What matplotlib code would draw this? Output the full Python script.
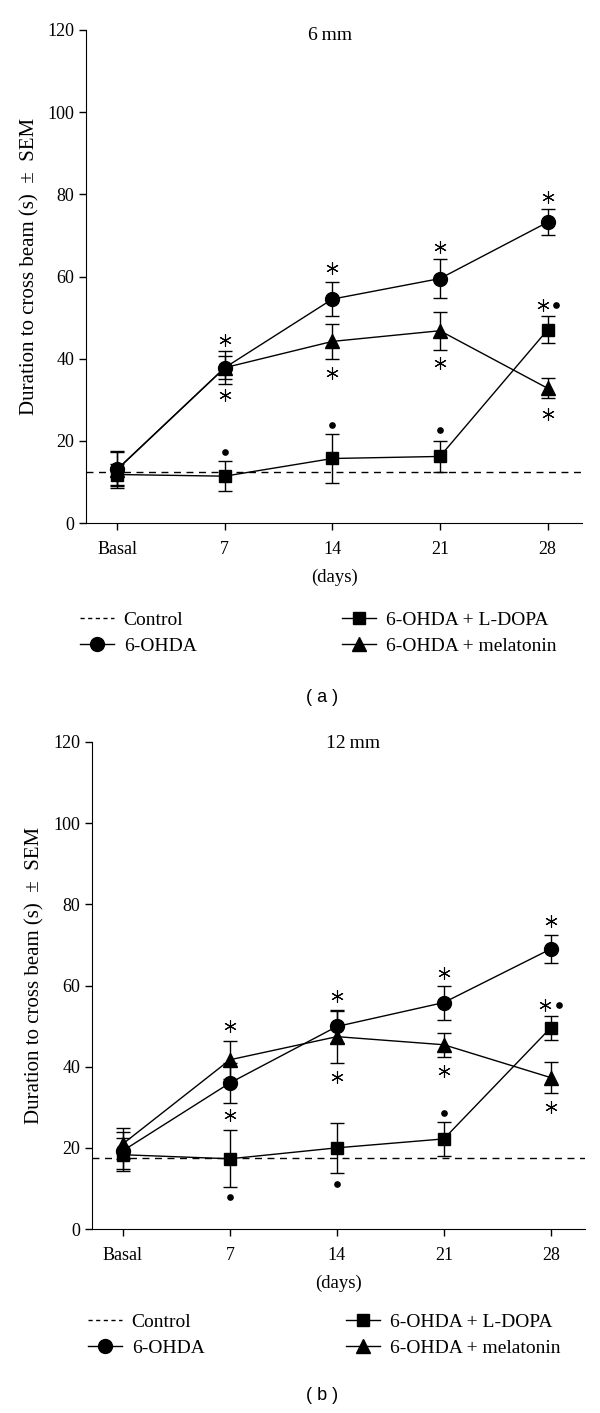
import matplotlib
matplotlib.use('Agg')
import matplotlib.pyplot as plt
from matplotlib.lines import Line2D

# x categories
days = ['Basal', '7', '14', '21', '28']
x = [0, 1, 2, 3, 4]

# Panel (a) 6 mm
a_control = 12.5
a_ohda = [13.1, 37.8, 54.5, 59.5, 73.2]
a_ohda_err = [4.2, 4.0, 4.2, 4.8, 3.2]
a_ldopa = [11.8, 11.4, 15.7, 16.2, 47.0]
a_ldopa_err = [2.5, 3.6, 6.0, 3.8, 3.3]
a_mel = [13.0, 37.8, 44.2, 46.8, 32.8]
a_mel_err = [4.5, 2.8, 4.2, 4.6, 2.4]
a_star_x = [1, 1, 2, 2, 3, 3, 4, 3.96, 4]
a_star_y = [44.5, 31.1, 62.0, 36.5, 67.1, 38.9, 79.3, 53.0, 26.5]
a_dot_x = [1, 2, 3, 4.08]
a_dot_y = [17.3, 23.8, 22.6, 53.0]

# Panel (b) 12 mm
b_control = 17.5
b_ohda = [19.3, 36.0, 49.9, 55.8, 69.0]
b_ohda_err = [4.5, 4.9, 4.0, 4.2, 3.5]
b_ldopa = [18.3, 17.3, 20.0, 22.2, 49.6]
b_ldopa_err = [4.0, 7.0, 6.2, 4.1, 3.0]
b_mel = [21.0, 41.7, 47.4, 45.4, 37.3]
b_mel_err = [3.8, 4.7, 6.4, 2.9, 3.8]
b_star_x = [1, 1, 2, 2, 3, 3, 4, 3.95, 4]
b_star_y = [49.9, 28.1, 57.3, 37.5, 63.2, 39.0, 75.8, 55.3, 30.1]
b_dot_x = [1, 2, 3, 4.08]
b_dot_y = [7.9, 11.1, 28.6, 55.3]

W, H = 600, 1413
plt.rcParams['font.family'] = 'Liberation Serif'
plt.rcParams['font.size'] = 13

fig = plt.figure(figsize=(W / 100, H / 100), dpi=100)


def draw_panel(ax, control, ohda, ohda_err, ldopa, ldopa_err, mel, mel_err,
               star_x, star_y, dot_x, dot_y, ylab_x):
    ax.axhline(control, color='black', ls=(0, (5, 4)), lw=1.0)
    common = dict(color='black', lw=1.0, elinewidth=1.0, capsize=5, capthick=1.0)
    ax.errorbar(x, ohda, yerr=ohda_err, marker='o', ms=10, **common)
    ax.errorbar(x, ldopa, yerr=ldopa_err, marker='s', ms=9, **common)
    ax.errorbar(x, mel, yerr=mel_err, marker='^', ms=9.5, **common)

    # significance markers
    ax.plot(star_x, star_y, ls='none', marker=(6, 2, 0), ms=9, mew=0.8, color='black')
    ax.plot(dot_x, dot_y, ls='none', marker='o', ms=3.8, color='black')

    ax.set_ylim(0, 120)
    ax.set_yticks([0, 20, 40, 60, 80, 100, 120])
    ax.set_xlim(-0.29, 4.32)
    ax.set_xticks(x)
    ax.set_xticklabels(days)
    ax.spines['top'].set_visible(False)
    ax.spines['right'].set_visible(False)
    ax.tick_params(direction='out', length=5, width=1, labelsize=13)
    ax.tick_params(axis='x', pad=8)
    ax.set_ylabel('Duration to cross beam (s)  \u00b1  SEM', fontsize=15)
    ax.yaxis.set_label_coords(ylab_x, 0.52)
    ax.set_xlabel('(days)', fontsize=13.5, labelpad=8)


ax1 = fig.add_axes([86 / W, 1 - 523 / H, 496 / W, 493 / H])
draw_panel(ax1, a_control, a_ohda, a_ohda_err, a_ldopa, a_ldopa_err,
           a_mel, a_mel_err, a_star_x, a_star_y, a_dot_x, a_dot_y, -0.094)
fig.text(330 / W, 1 - 35 / H, '6\u2009mm', ha='center', va='center', fontsize=14)

ax2 = fig.add_axes([92 / W, 1 - 1229 / H, 493 / W, 487 / H])
draw_panel(ax2, b_control, b_ohda, b_ohda_err, b_ldopa, b_ldopa_err,
           b_mel, b_mel_err, b_star_x, b_star_y, b_dot_x, b_dot_y, -0.096)
fig.text(353 / W, 1 - 744 / H, '12\u2009mm', ha='center', va='center', fontsize=14)

# legends (two columns per panel)
h_control = Line2D([], [], color='black', ls=(0, (3, 2.5)), lw=1.0)
h_ohda = Line2D([], [], color='black', marker='o', ms=10, lw=1.0)
h_ldopa = Line2D([], [], color='black', marker='s', ms=9, lw=1.0)
h_mel = Line2D([], [], color='black', marker='^', ms=9.5, lw=1.0)

leg_style = dict(loc='upper left', frameon=False, fontsize=14, handlelength=1.75,
                 handletextpad=0.5, labelspacing=0.45, borderpad=0, borderaxespad=0)

# (top y, left column x, right column x) in pixels
for top, xl, xr in [(611, 80, 342), (1313, 88, 346)]:
    fig.legend([h_control, h_ohda], ['Control', '6-OHDA'],
               bbox_to_anchor=(xl / W, 1 - top / H), **leg_style)
    fig.legend([h_ldopa, h_mel], ['6-OHDA + L-DOPA', '6-OHDA + melatonin'],
               bbox_to_anchor=(xr / W, 1 - top / H), **leg_style)

fig.text(322 / W, 1 - 697 / H, '( a )', ha='center', va='center',
         fontsize=13, family='Liberation Sans')
fig.text(322 / W, 1 - 1396 / H, '( b )', ha='center', va='center',
         fontsize=13, family='Liberation Sans')

fig.savefig('out.png', dpi=100)
